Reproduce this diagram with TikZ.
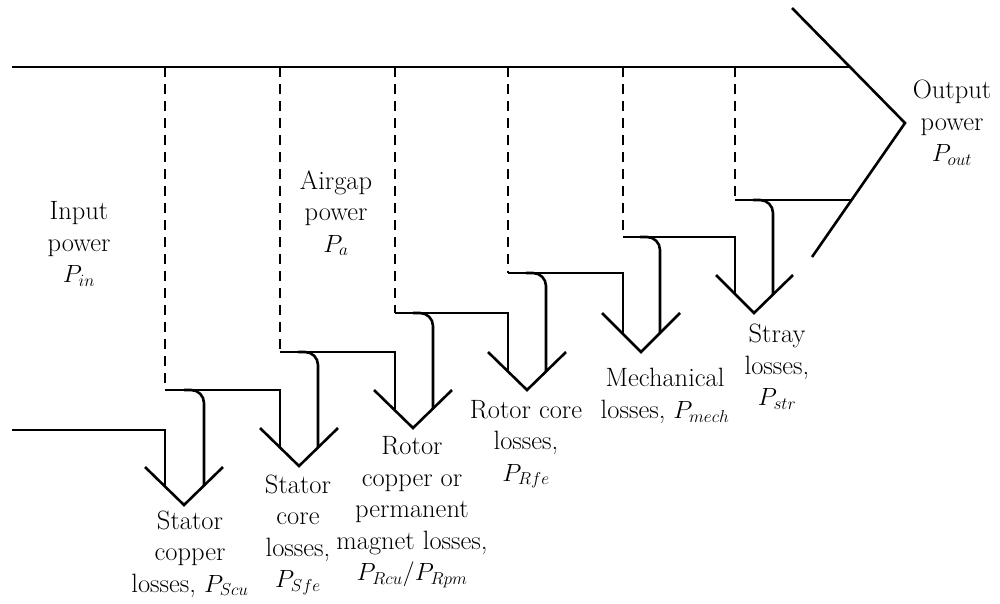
\documentclass[tikz,border=0pt]{standalone}
\usepackage{amsmath}
\usepackage{tikz}
\usetikzlibrary{positioning}
\tikzset{
    flow/.style = {
        draw,
        line width=2.6pt,
        line join=miter
    },
    turn/.style = {
        flow,
        rounded corners=13pt
    },
    split/.style = {
        draw,
        line width=1.4pt,
        dash pattern=on 10pt off 7pt
    },
    lbl/.style = {
        align=center,
        inner sep=0pt,
        font=\fontsize{26.5}{31.5}\selectfont
    },
}

\begin{document}
\begin{tikzpicture}[x=1pt,y=-1pt]
                \useasboundingbox (0,0) rectangle (1000,603);

                % main stream and output arrow head
                \path[flow] (12,67) -- (850,67);
                \path[flow] (792,8) -- (905,123) -- (812,257);
                \path[flow] (12,430) -- (165,430) -- (165,486);

                % stator copper
                \path[split] (165,67) -- (165,390);
                \path[flow] (165,390) -- (280,390) -- (280,447);
                \path[turn] (184,390) -- (204,390) -- (204,486);
                \path[flow] (145,467) -- (184,505) -- (223,467);

                % stator core
                \path[split] (280,67) -- (280,352);
                \path[flow] (280,352) -- (395,352) -- (395,409);
                \path[turn] (298,352) -- (318,352) -- (318,447);
                \path[flow] (260,428) -- (299,466) -- (338,428);

                % rotor copper / pm
                \path[split] (395,67) -- (395,313);
                \path[flow] (395,313) -- (508,313) -- (508,371);
                \path[turn] (413,313) -- (433,313) -- (433,409);
                \path[flow] (374,390) -- (413,428) -- (452,390);

                % rotor core
                \path[split] (508,67) -- (508,273);
                \path[flow] (508,273) -- (623,273) -- (623,333);
                \path[turn] (526,273) -- (546,273) -- (546,371);
                \path[flow] (488,352) -- (527,390) -- (566,352);

                % mechanical
                \path[split] (623,67) -- (623,237);
                \path[flow] (623,237) -- (735,237) -- (735,294);
                \path[turn] (640,237) -- (660,237) -- (660,333);
                \path[flow] (602,313) -- (641,352) -- (680,313);

                % stray
                \path[split] (735,67) -- (735,200);
                \path[flow] (735,200) -- (852,200);
                \path[turn] (753,200) -- (773,200) -- (773,294);
                \path[flow] (716,275) -- (754,313) -- (793,275);

                % labels
                \node[lbl] (pin) at (79,244) {Input\\power\\$P_{in}$};
                \node[lbl] (pa) at (336,213) {Airgap\\power\\$P_{a}$};
                \node[lbl] (pout) at (952,123) {Output\\power\\$P_{out}$};
                \node[lbl] (scu) at (190,554) {Stator\\copper\\losses, $P_{Scu}$};
                \node[lbl] (sfe) at (298,535) {Stator\\core\\losses,\\$P_{Sfe}$};
                \node[lbl] (rcu) at (412,512) {Rotor\\copper or\\permanent\\magnet losses,\\$P_{Rcu}/P_{Rpm}$};
                \node[lbl] (rfe) at (526,444) {Rotor core\\losses,\\$P_{Rfe}$};
                \node[lbl] (mech) at (665,396) {Mechanical\\losses, $P_{mech}$};
                \node[lbl] (str) at (777,367) {Stray\\losses,\\$P_{str}$};
\end{tikzpicture}
\end{document}
